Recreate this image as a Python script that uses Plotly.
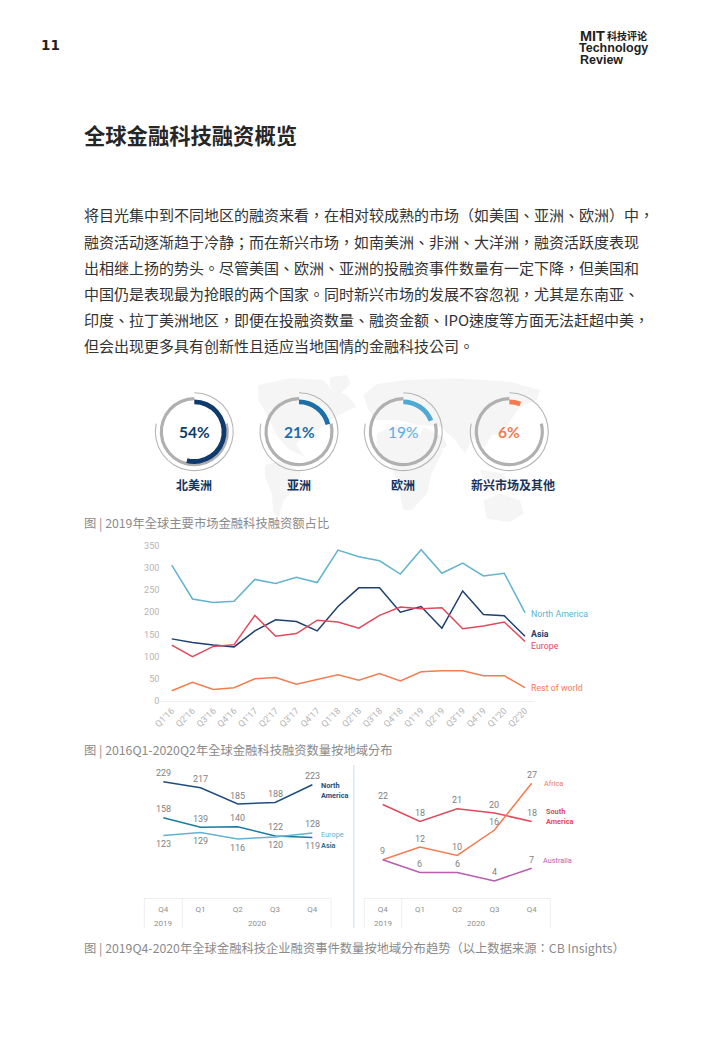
import plotly.graph_objects as go

W, H = 720, 1040
def fx(p): return p / W
def fy(p): return 1 - p / H

# ---------- data ----------
quarters = ["Q1'16","Q2'16","Q3'16","Q4'16","Q1'17","Q2'17","Q3'17","Q4'17","Q1'18","Q2'18","Q3'18","Q4'18","Q1'19","Q2'19","Q3'19","Q4'19","Q1'20","Q2'20"]
north_america = [306,230,222,225,274,265,279,267,340,325,316,286,341,288,311,282,288,199]
asia = [140,132,126,122,158,183,179,158,213,255,255,200,213,164,248,195,192,146]
europe = [126,100,123,127,193,146,152,182,178,164,193,212,208,210,163,169,178,134]
rest_of_world = [23,42,26,30,50,53,38,49,59,47,62,45,66,68,68,57,57,30]
y_ticks = [0,50,100,150,200,250,300,350]

small_quarters = ["Q4","Q1","Q2","Q3","Q4"]
na_2020 = [229,217,185,188,223]
asia_2020 = [158,139,140,122,119]
europe_2020 = [123,129,116,120,128]
south_america_2020 = [22,18,21,20,18]
africa_2020 = [9,12,10,16,27]
australia_2020 = [9,6,6,4,7]

shares = [54,21,19,6]
share_regions = ["北美洲","亚洲","欧洲","新兴市场及其他"]

body_lines = [
    "将目光集中到不同地区的融资来看，在相对较成熟的市场（如美国、亚洲、欧洲）中，",
    "融资活动逐渐趋于冷静；而在新兴市场，如南美洲、非洲、大洋洲，融资活跃度表现",
    "出相继上扬的势头。尽管美国、欧洲、亚洲的投融资事件数量有一定下降，但美国和",
    "中国仍是表现最为抢眼的两个国家。同时新兴市场的发展不容忽视，尤其是东南亚、",
    "印度、拉丁美洲地区，即便在投融资数量、融资金额、IPO速度等方面无法赶超中美，",
    "但会出现更多具有创新性且适应当地国情的金融科技公司。",
]
captions = [
    "图 | 2019年全球主要市场金融科技融资额占比",
    "图 | 2016Q1-2020Q2年全球金融科技融资数量按地域分布",
    "图 | 2019Q4-2020年全球金融科技企业融资事件数量按地域分布趋势（以上数据来源：CB Insights）",
]

# ---------- styles ----------
CJK = "Noto Sans CJK SC"
CJK_BODY = "Noto Sans CJK TC"
LAT = "Roboto"
C_NA, C_ASIA, C_EU, C_ROW = "#62b3cf", "#1f3f6e", "#e2485c", "#f47c50"
C_NA2, C_ASIA2, C_AUS = "#1f4e7d", "#1a7aa0", "#b85cb0"
TICK = "#b4b4b4"
NUM = "#7f7f7f"

fig = go.Figure()

# ---------- decorative map, outline in crop units (origin 190,370, scale 3) ----------
land = [
    [(205,45),(300,25),(400,30),(425,60),(470,75),(500,110),(462,128),(420,150),(385,180),(340,190),(318,225),(345,262),(300,240),(262,200),(228,130),(205,90)],
    [(420,22),(470,15),(482,40),(442,80),(420,50)],
    [(225,285),(280,270),(332,310),(320,350),(282,390),(265,442),(250,430),(245,370),(225,320)],
    [(520,75),(560,42),(650,30),(800,25),(960,35),(1050,60),(1040,90),(990,110),(962,150),(940,190),(905,195),(885,232),(850,205),(825,250),(790,205),(750,170),(690,165),(620,150),(560,150),(535,120)],
    [(560,190),(620,165),(680,180),(718,238),(760,240),(725,310),(710,372),(665,420),(640,420),(620,330),(600,280),(560,260)],
    [(700,170),(760,200),(772,230),(722,250),(690,200)],
    [(870,300),(940,310),(950,330),(880,325)],
    [(880,392),(930,370),(990,392),(1002,430),(960,456),(890,446)],
]
def map_path(points):
    pts = [(fx(190 + a / 3), fy(370 + b / 3)) for a, b in points]
    return "M" + " L".join(f"{a:.5f},{b:.5f}" for a, b in pts) + " Z"
shapes = [dict(type="path", xref="paper", yref="paper", layer="below", line_width=0,
               fillcolor="#f5f5f5", path=map_path(p)) for p in land]

# ---------- donuts ----------
centers = [194.3, 299, 403.3, 509.3]
CY = 431.7
arc_colors = ["#0f3a6e", "#1b6ea8", "#4fa9d2", "#f47c50"]
text_colors = ["#0f3a6e", "#1b6ea8", "#5aaee6", "#f47c50"]

def ring(cx, r_out, r_in, values, colors):
    fig.add_trace(go.Pie(
        values=values, sort=False, direction="clockwise", rotation=0,
        hole=r_in / r_out, textinfo="none", showlegend=False, hoverinfo="skip",
        marker=dict(colors=colors, line=dict(width=0)),
        domain=dict(x=[fx(cx - r_out), fx(cx + r_out)], y=[fy(CY + r_out), fy(CY - r_out)]),
    ))

for cx, s, col in zip(centers, shares, arc_colors):
    ring(cx, 39.5, 38.4, [282, 78], ["#b5b5b5", "rgba(0,0,0,0)"])
    ring(cx, 34.6, 31.4, [76, 284], ["rgba(0,0,0,0)", "#b0b0b0"])
    ring(cx, 32.2, 27.4, [s, 100 - s], [col, "rgba(0,0,0,0)"])

# ---------- main line chart ----------
for name, vals, col in [("North America", north_america, C_NA), ("Asia", asia, C_ASIA),
                        ("Europe", europe, C_EU), ("Rest of world", rest_of_world, C_ROW)]:
    fig.add_trace(go.Scatter(x=list(range(len(quarters))), y=vals, mode="lines", name=name, showlegend=False,
                             line=dict(color=col, width=1.5), xaxis="x", yaxis="y", hoverinfo="skip"))

# ---------- text ----------
ann = []
def text(x, y, s, size, color, family=CJK, bold=False, anchor="left"):
    ann.append(dict(xref="paper", yref="paper", x=fx(x), y=fy(y), text=f"<b>{s}</b>" if bold else s,
                    showarrow=False, xanchor=anchor, yanchor="middle", align=anchor,
                    font=dict(family=family, size=size, color=color), borderpad=0, borderwidth=0))

# ---------- small multiples ----------
def small(vals, col, sides, ax, skip=()):
    fig.add_trace(go.Scatter(x=list(range(5)), y=vals, mode="lines", showlegend=False, hoverinfo="skip",
                             line=dict(color=col, width=1.5), xaxis=f"x{ax}", yaxis=f"y{ax}"))
    for i, (v, side) in enumerate(zip(vals, sides)):
        if i in skip:
            continue
        ann.append(dict(xref=f"x{ax}", yref=f"y{ax}", x=i, y=v, text=str(v), showarrow=False,
                        yshift=8.5 * side, xanchor="center", yanchor="middle",
                        font=dict(family=LAT, size=9, color=NUM), borderpad=0))

small(na_2020, C_NA2, [1]*5, 2)
small(asia_2020, C_ASIA2, [1,1,1,1,-1], 2)
small(europe_2020, C_NA, [-1,-1,-1,-1,1], 2)
small(south_america_2020, C_EU, [1]*5, 3)
small(africa_2020, C_ROW, [1]*5, 3)
small(australia_2020, C_AUS, [1]*5, 3, skip=(0,))

text(41, 45, "11", 13.5, "#222222", "DejaVu Sans", True)
text(580, 36, "MIT", 14.5, "#222222", "Liberation Sans", True)
text(607, 36, "科技评论", 10, "#222222", CJK, True)
text(579, 48, "Technology", 12.5, "#222222", "Liberation Sans", True)
text(580, 60, "Review", 12.5, "#222222", "Liberation Sans", True)
text(84, 134, "全球金融科技融资概览", 21.3, "#262626", CJK, True)
for i, line in enumerate(body_lines):
    text(84, 215 + i * 26.2, line, 15, "#333333", CJK_BODY)
for cx, s, c, region in zip(centers, shares, text_colors, share_regions):
    text(cx, 432, f"{s}%", 15.5, c, "Lato", s != 19, "center")
    text(cx if s != 6 else 512.5, 484.5, region, 12, "#16345c", CJK, True, "center")
for y, cap in zip([523, 750, 948], captions):
    text(84, y, cap, 12.3, "#8a8a8a", CJK_BODY)

text(531, 613.5, "North America", 8.8, C_NA, LAT)
text(531, 633.5, "Asia", 8.8, C_ASIA, LAT, True)
text(531, 645.5, "Europe", 8.8, C_EU, LAT)
text(531, 688, "Rest of world", 8.8, C_ROW, LAT)

text(320.7, 785.5, "North", 7.3, C_NA2, LAT, True)
text(320.7, 795, "America", 7.3, C_NA2, LAT, True)
text(321.3, 834, "Europe", 7.3, C_NA, LAT)
text(321.3, 845.5, "Asia", 7.3, C_ASIA2, LAT, True)
text(544.3, 783, "Africa", 7.3, C_ROW, LAT)
text(545.7, 811.5, "South", 7.3, C_EU, LAT, True)
text(545.7, 821, "America", 7.3, C_EU, LAT, True)
text(543, 860, "Australia", 7.3, C_AUS, LAT)

text(163.3, 923, "2019", 8, "#8f8f8f", LAT, anchor="center")
text(256.5, 923, "2020", 8, "#8f8f8f", LAT, anchor="center")
text(382.7, 923, "2019", 8, "#8f8f8f", LAT, anchor="center")
text(475.5, 923, "2020", 8, "#8f8f8f", LAT, anchor="center")

# ---------- table-like boxes and separator ----------
def vline(x, y0, y1, color, width):
    shapes.append(dict(type="line", xref="paper", yref="paper", x0=fx(x), x1=fx(x), y0=fy(y0), y1=fy(y1),
                       line=dict(color=color, width=width)))
for x in [144.3, 182.3, 331, 364.3, 401.7, 550.3]:
    vline(x, 898.3, 928, "#eeeeee", 1)
vline(353.8, 765, 928, "#d6ebf4", 1.5)

small_x = dict(tickmode="array", tickvals=list(range(5)), ticktext=small_quarters, showgrid=False, zeroline=False,
               showline=True, linecolor="#eeeeee", linewidth=1, ticks="", fixedrange=True,
               tickfont=dict(family=LAT, size=8, color="#8f8f8f"), ticklabelstandoff=3)
hidden_y = dict(visible=False, fixedrange=True)

fig.update_layout(
    width=W, height=H, autosize=False, margin=dict(l=0, r=0, t=0, b=0, pad=0, autoexpand=False),
    paper_bgcolor="white", plot_bgcolor="rgba(0,0,0,0)", showlegend=False,
    annotations=ann, shapes=shapes,
    xaxis=dict(domain=[fx(160.3), fx(535)], range=[-0.55, 17.48], tickmode="array",
               tickvals=list(range(18)), ticktext=quarters, tickangle=-45, showgrid=False, zeroline=False,
               showline=True, linecolor="#eeeeee", linewidth=1, ticks="",
               tickfont=dict(family=LAT, size=9, color=TICK), anchor="y"),
    yaxis=dict(domain=[fy(701), fy(545.7)], range=[0, 350], tickmode="array", tickvals=y_ticks,
               showgrid=False, zeroline=False, showline=False, ticks="",
               tickfont=dict(family=LAT, size=9, color=TICK), anchor="x"),
    xaxis2=dict(domain=[fx(144.3), fx(331)], range=[-0.51, 4.5], anchor="y2", **small_x),
    yaxis2=dict(domain=[fy(898.3), fy(770)], range=[-0.98, 252.1], anchor="x2", **hidden_y),
    xaxis3=dict(domain=[fx(364.3), fx(550.3)], range=[-0.494, 4.5], anchor="y3", **small_x),
    yaxis3=dict(domain=[fy(898.3), fy(770)], range=[-0.08, 30.13], anchor="x3", **hidden_y),
)

fig.write_html("out.html", config=dict(displayModeBar=False, responsive=False),
               post_script="document.body.style.margin='0';")
